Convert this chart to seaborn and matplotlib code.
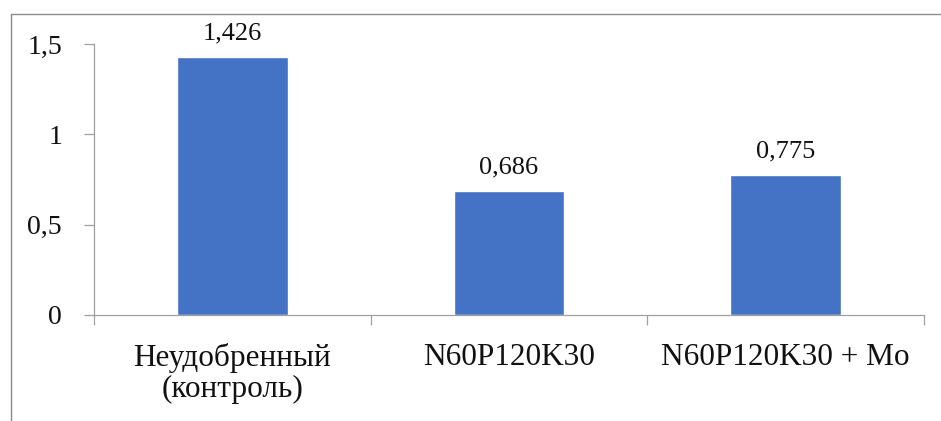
import matplotlib
matplotlib.use("Agg")
import matplotlib.pyplot as plt
import seaborn as sns
import pandas as pd
from matplotlib.lines import Line2D
from matplotlib import font_manager as fm

categories = ["Неудобренный\n(контроль)", "N60P120K30", "N60P120K30 + Mo"]
values = [1.426, 0.686, 0.775]
value_labels = ["1,426", "0,686", "0,775"]
yticks = [0, 0.5, 1, 1.5]
ytick_labels = ["0", "0,5", "1", "1,5"]

sns.set_theme(style="white")
SERIF = "Liberation Serif"
plt.rcParams["font.family"] = [SERIF, "DejaVu Serif"]

W, H = 941, 421
fig = plt.figure(figsize=(W / 100, H / 100), dpi=100)
ax = fig.add_axes([94 / W, 1 - 315 / H, (924 - 94) / W, (315 - 44) / H])

df = pd.DataFrame({"cat": categories, "val": values})
sns.barplot(data=df, x="cat", y="val", color="#4472C4", saturation=1,
            width=0.4, ax=ax)

ax.set_ylim(0, 1.5)
ax.set_xlim(-0.5, 2.5)
ax.set_xlabel("")
ax.set_ylabel("")
ax.set_yticks(yticks)
ax.set_yticklabels(ytick_labels)
ax.set_xticks([0, 1, 2])
ax.set_xticklabels(categories)
for lbl in ax.get_yticklabels():
    lbl.set_fontproperties(fm.FontProperties(family=SERIF, size=20))
    lbl.set_color("#111111")
for lbl in ax.get_xticklabels():
    lbl.set_fontproperties(fm.FontProperties(family=SERIF, size=22.5))
    lbl.set_color("#111111")
    lbl.set_linespacing(1.08)
ax.tick_params(axis="y", direction="out", length=7, width=0.9, color="#a0a0a0",
               pad=16, left=True)
ax.tick_params(axis="x", which="major", length=0, pad=20)
ax.set_xticks([-0.5, 0.5, 1.5, 2.5], minor=True)
ax.tick_params(axis="x", which="minor", direction="out", length=7, width=0.9,
               color="#a0a0a0", bottom=True)

for s in ["top", "right"]:
    ax.spines[s].set_visible(False)
for s in ["left", "bottom"]:
    ax.spines[s].set_color("#a0a0a0")
    ax.spines[s].set_linewidth(0.9)

for i, (v, t) in enumerate(zip(values, value_labels)):
    ax.annotate(t, (i, v), xytext=(0, 9), textcoords="offset points",
                ha="center", va="bottom", color="#111111",
                fontproperties=fm.FontProperties(family=SERIF, size=19))

fig.add_artist(Line2D([10.5 / W, 10.5 / W], [0, 1 - 13.5 / H],
                      color="#8c8c8c", lw=1.0))
fig.add_artist(Line2D([10.5 / W, 1], [1 - 13.5 / H, 1 - 13.5 / H],
                      color="#8c8c8c", lw=1.0))

fig.savefig("out.png", dpi=100)
